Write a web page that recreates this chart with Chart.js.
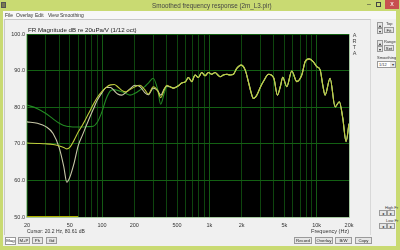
<!DOCTYPE html>
<html><head><meta charset="utf-8">
<script src="https://cdn.jsdelivr.net/npm/chart.js@4"></script>
<style>
html,body{margin:0;padding:0;}
body{width:400px;height:250px;position:relative;overflow:hidden;background:#c9da72;font-family:"Liberation Sans",Arial,sans-serif;color:#333;}
.a{position:absolute;white-space:nowrap;z-index:2;}
.t{font-size:5px;line-height:6px;}
.s{font-size:4px;line-height:5px;color:#333;}
.btn{position:absolute;z-index:2;background:#e6e6e6;border:1px solid #9a9a9a;font-size:4.3px;line-height:5px;text-align:center;color:#222;box-sizing:border-box;overflow:hidden;}
#client{left:3px;top:11px;width:393px;height:235px;background:#f0f0f0;z-index:0;}
#menubar{left:3px;top:11px;width:393px;height:8px;background:#f7f7f7;z-index:0;}
#frame{left:4px;top:19px;width:367px;height:216px;border-top:1px solid #c8c8c8;border-left:1px solid #c8c8c8;border-right:1px solid #d8d8d8;box-sizing:border-box;z-index:0;}
canvas{position:absolute;left:0;top:25px;z-index:1;}
</style></head>
<body>
<div class="a" id="client"></div>
<div class="a" id="menubar"></div>
<div class="a" id="frame"></div>
<div class="a" style="left:1px;top:2px;width:5px;height:6px;background:#7a7a50;border:1px solid #555;box-sizing:border-box"></div>
<div class="a" style="left:152px;top:2px;font-size:6.3px;color:#444">Smoothed frequency response (2m_L3.pir)</div>
<div class="a" style="left:367px;top:0px;font-size:7px;color:#333">–</div>
<div class="a" style="left:376px;top:2px;width:5px;height:5px;border:1px solid #444;box-sizing:border-box"></div>
<div class="a" style="left:385px;top:0px;width:14px;height:9px;background:#c75050;color:#fff;font-size:7px;line-height:8px;text-align:center">x</div>
<div class="a t" style="left:5px;top:12px">File</div>
<div class="a t" style="left:16px;top:12px">Overlay</div>
<div class="a t" style="left:35px;top:12px">Edit</div>
<div class="a t" style="left:48px;top:12px">View</div>
<div class="a t" style="left:60px;top:12px">Smoothing</div>
<div class="a" style="left:28px;top:26px;font-size:6.2px;line-height:7px;color:#222">FR Magnitude dB re 20uPa/V (1/12 oct)</div>
<div class="a" style="left:352px;top:32px;font-size:5.5px;line-height:6px;color:#444;text-align:center;width:5px">A<br>R<br>T<br>A</div>
<div class="btn" style="left:377px;top:22px;width:6px;height:6px;font-size:4px">▴</div>
<div class="btn" style="left:377px;top:28px;width:6px;height:6px;font-size:4px">▾</div>
<div class="a s" style="left:386px;top:21px">Top</div>
<div class="btn" style="left:384px;top:27px;width:10px;height:6px">Fit</div>
<div class="btn" style="left:377px;top:40px;width:6px;height:6px;font-size:4px">▴</div>
<div class="btn" style="left:377px;top:46px;width:6px;height:6px;font-size:4px">▾</div>
<div class="a s" style="left:384px;top:39px">Range</div>
<div class="btn" style="left:384px;top:45px;width:10px;height:6px">Set</div>
<div class="a s" style="left:377px;top:55px">Smoothing</div>
<div class="a" style="left:377px;top:61px;width:19px;height:7px;background:#fff;border:1px solid #999;box-sizing:border-box;font-size:4px;line-height:5px;padding-left:1px">1/12<span style="position:absolute;right:0;top:0;width:5px;height:5px;background:#e6e6e6;font-size:4px;text-align:center">▾</span></div>
<div class="a s" style="left:385px;top:205px">High Fr</div>
<div class="btn" style="left:379px;top:210px;width:8px;height:6px">◂</div>
<div class="btn" style="left:387px;top:210px;width:8px;height:6px">▸</div>
<div class="a s" style="left:386px;top:218px">Low Fr</div>
<div class="btn" style="left:379px;top:223px;width:8px;height:6px">◂</div>
<div class="btn" style="left:387px;top:223px;width:8px;height:6px">▸</div>
<div class="a t" style="left:27px;top:228px">Cursor: 20.2 Hz, 80.61 dB</div>
<div class="btn" style="left:5px;top:237px;width:11px;height:8px;background:#fff;line-height:6px">Mag</div>
<div class="btn" style="left:18px;top:237px;width:12px;height:7px">M+P</div>
<div class="btn" style="left:32px;top:237px;width:11px;height:7px">Ph</div>
<div class="btn" style="left:46px;top:237px;width:11px;height:7px">Gd</div>
<div class="btn" style="left:294px;top:237px;width:18px;height:7px">Record</div>
<div class="btn" style="left:315px;top:237px;width:18px;height:7px">Overlay</div>
<div class="btn" style="left:335px;top:237px;width:17px;height:7px">B/W</div>
<div class="btn" style="left:355px;top:237px;width:17px;height:7px">Copy</div>
<canvas id="c" width="360" height="215"></canvas>
<script>
// ---- data ----
const freqs = [20,25,30,35,40,44,47,50,55,60,66,75,83,90,100,110,120,130,140,153,165,182,203,226,250,270,300,330,352,380,401,430,462,510,553,600,637,686,736,790,849,912,980,1052,1130,1200,1259,1350,1453,1560,1675,1800,1973,2155,2308,2450,2570,2700,2864,3000,3186,3565,3990,4305,4600,4830,5262,5860,6521,7261,7800,8500,9317,10000,10770,11400,11980,13330,14840,16270,17500,18780,20000];
const yellowDb = [70.2,70.1,70.0,69.8,69.4,69.0,68.6,69.0,71.0,73.2,75.2,78.3,80.8,82.6,84.3,85.5,86.1,86.2,85.6,84.6,84.2,84.8,85.6,86.0,84.8,83.6,85.6,84.5,82.6,84.8,86.0,85.6,85.2,85.8,86.6,87.0,88.1,87.0,88.8,88.1,89.5,88.6,89.5,89.0,89.5,88.8,88.3,88.8,89.0,88.8,89.0,90.6,91.5,90.2,87.0,84.0,82.4,82.8,84.2,85.6,87.0,89.0,87.9,83.3,85.8,88.2,85.6,89.9,87.0,88.8,92.4,93.2,92.4,91.1,90.2,86.0,83.3,87.9,80.1,81.5,77.0,70.6,75.5];
const greenDb = [80.6,79.6,78.3,76.8,75.6,75.0,74.8,74.7,74.6,74.6,74.6,74.7,74.8,75.8,78.8,82.5,84.5,84.8,84.6,84.2,83.8,83.3,83.8,84.7,85.6,86.6,87.9,84.8,80.8,83.8,85.6,85.6,85.2,85.8,86.6,87.0,88.1,87.0,88.8,88.1,89.5,88.6,89.5,89.0,89.5,88.8,88.3,88.8,89.0,88.8,89.0,90.6,91.5,90.2,87.0,84.0,82.4,82.8,84.2,85.6,87.0,89.0,87.9,83.3,85.8,88.2,85.6,89.9,87.0,88.8,92.4,93.2,92.4,91.1,90.2,86.0,83.3,87.9,80.1,81.5,77.0,70.6,75.5];
const paleDb = [76.0,75.6,74.7,72.8,68.8,63.8,59.5,60.8,64.8,69.5,72.5,76.5,79.5,81.8,84.0,85.4,85.4,84.5,83.6,83.3,83.9,85.0,86.0,85.6,84.0,83.4,85.2,84.5,83.3,85.0,85.8,85.6,85.2,85.8,86.6,87.0,88.1,87.0,88.8,88.1,89.5,88.6,89.5,89.0,89.5,88.8,88.3,88.8,89.0,88.8,89.0,90.6,91.5,90.2,87.0,84.0,82.4,82.8,84.2,85.6,87.0,89.0,87.9,83.3,85.8,88.2,85.6,89.9,87.0,88.8,92.4,93.2,92.4,91.1,90.2,86.0,83.3,87.9,80.1,81.5,77.0,70.6,75.5];
const markerFreq = [20, 60];
const markerDb = [50, 50];
const gridFreqs = [20,30,40,50,60,70,80,90,100,200,300,400,500,600,700,800,900,1000,2000,3000,4000,5000,6000,7000,8000,9000,10000,20000];
const labelFreqs = [20,50,100,200,500,1000,2000,5000,10000,20000];
const labelTexts = ['20','50','100','200','500','1k','2k','5k','10k','20k'];
const yTicks = [50,60,70,80,90,100];

const pts = (xs, ys) => xs.map((x,i)=>({x:x, y:ys[i]}));

const bgPlugin = {
  id:'bg',
  beforeDraw(chart){
    const a = chart.chartArea, c = chart.ctx;
    c.save(); c.fillStyle='#000'; c.fillRect(a.left,a.top,a.right-a.left,a.bottom-a.top); c.restore();
  },
  afterDraw(chart){
    const a = chart.chartArea, c = chart.ctx;
    c.save(); c.strokeStyle='#a6c8a0'; c.lineWidth=1;
    c.beginPath();
    c.moveTo(a.left-0.5,a.top); c.lineTo(a.left-0.5,a.bottom+0.5); c.lineTo(a.right+0.5,a.bottom+0.5); c.lineTo(a.right+0.5,a.top);
    c.stroke(); c.restore();
  }
};

const lineDs = (label, ys, color, order) => ({
  label, data: pts(freqs, ys), borderColor: color, borderWidth: 1.1,
  pointRadius: 0, cubicInterpolationMode: 'monotone', fill: false, order
});

new Chart(document.getElementById('c'), {
  type: 'line',
  data: { datasets: [
    lineDs('yellow', yellowDb, '#bfcb3c', 0),
    lineDs('pale', paleDb, '#c8c8a8', 1),
    lineDs('green', greenDb, '#238a23', 2),
    { label:'marker', data: pts(markerFreq, markerDb), borderColor:'#b0b000', borderWidth:2, pointRadius:0, clip:false, order:3 }
  ]},
  options: {
    responsive: false, animation: false,
    layout: { padding: { left:0, right:11, top:9, bottom:0 } },
    plugins: { legend:{display:false}, tooltip:{enabled:false} },
    scales: {
      x: {
        type: 'logarithmic', min: 20, max: 20000,
        afterBuildTicks: s => { s.ticks = gridFreqs.map(v=>({value:v})); },
        afterFit: s => { s.height = 23; s.paddingLeft = 0; s.paddingRight = 0; },
        grid: { drawTicks:false, color: ctx => ([100,1000,10000].includes(ctx.tick && ctx.tick.value) ? '#145a14' : '#0e450e'), lineWidth:1 },
        border: { display:false },
        ticks: { autoSkip:false, maxRotation:0, padding:5, color:'#333', font:{ family:'Liberation Sans', size:5.5 },
          callback: (v) => { const i = labelFreqs.indexOf(v); return i>=0 ? labelTexts[i] : ''; } },
        title: { display:true, text:'Frequency (Hz)', align:'end', color:'#333', font:{ family:'Liberation Sans', size:5.5 }, padding:{top:0,bottom:5} }
      },
      y: {
        min: 50, max: 100,
        afterBuildTicks: s => { s.ticks = yTicks.map(v=>({value:v})); },
        afterFit: s => { s.width = 27; s.paddingTop = 0; s.paddingBottom = 0; },
        grid: { drawTicks:false, color:'#136013', lineWidth:1 },
        border: { display:false },
        ticks: { padding:2, color:'#333', font:{ family:'Liberation Sans', size:5.5 }, callback: v => Number(v).toFixed(1) }
      }
    }
  },
  plugins: [bgPlugin]
});
</script>
</body></html>
